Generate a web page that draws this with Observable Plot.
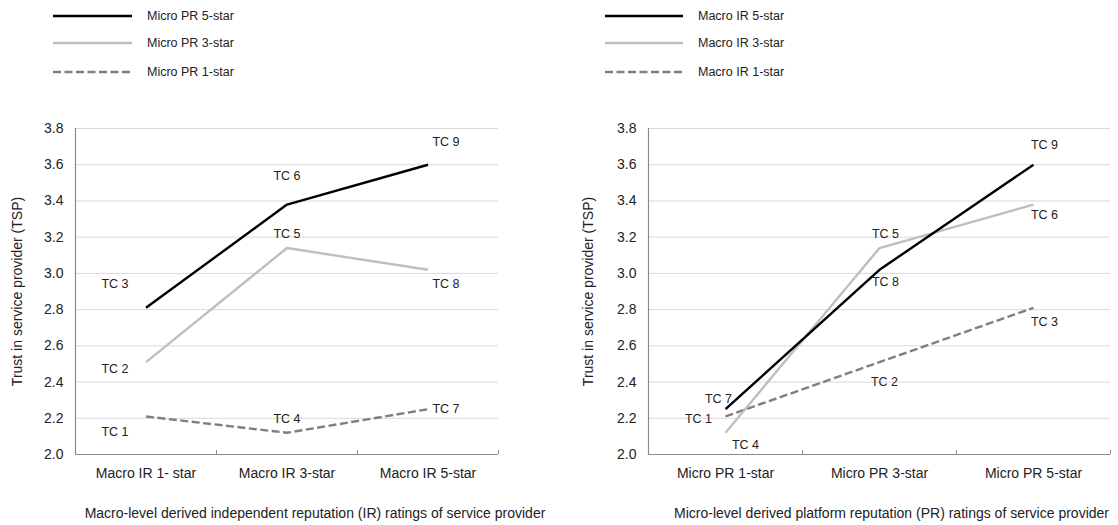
<!DOCTYPE html>
<html>
<head>
<meta charset="utf-8">
<script src="https://cdn.jsdelivr.net/npm/d3@7"></script>
<script src="https://cdn.jsdelivr.net/npm/@observablehq/plot@0.6"></script>
<style>
  html, body { margin: 0; padding: 0; background: #fff; }
  #root { position: relative; width: 1118px; height: 525px; overflow: hidden; font-family: "Liberation Sans", Arial, sans-serif; color: #222; }
  .legend { position: absolute; top: 0; }
  .legend .item { position: absolute; left: 0; height: 16px; white-space: nowrap; font-size: 12.5px; }
  .legend svg { position: absolute; left: 0; top: 0; }
  .legend span { position: absolute; top: 0; line-height: 16px; }
</style>
</head>
<body>
<div id="root"></div>
<script>
// ---------- data ----------
const irCategories = ["Macro IR 1- star", "Macro IR 3-star", "Macro IR 5-star"];
const prCategories = ["Micro PR 1-star", "Micro PR 3-star", "Micro PR 5-star"];
const starLevels = [1, 3, 5];
const leftSeriesNames = ["Micro PR 5-star", "Micro PR 3-star", "Micro PR 1-star"];
const rightSeriesNames = ["Macro IR 5-star", "Macro IR 3-star", "Macro IR 1-star"];
const seriesLevels = [5, 3, 1];
const tcLabels = ["TC 1", "TC 2", "TC 3", "TC 4", "TC 5", "TC 6", "TC 7", "TC 8", "TC 9"];
const cellIR = [1, 1, 1, 3, 3, 3, 5, 5, 5];
const cellPR = [1, 3, 5, 1, 3, 5, 1, 3, 5];
const tspValues = [2.21, 2.51, 2.81, 2.12, 3.14, 3.38, 2.25, 3.02, 3.60];
const yTicks = [2.0, 2.2, 2.4, 2.6, 2.8, 3.0, 3.2, 3.4, 3.6, 3.8];
const yTitle = "Trust in service provider (TSP)";
const leftXTitle = "Macro-level derived independent reputation (IR) ratings of service provider";
const rightXTitle = "Micro-level derived platform reputation (PR) ratings of service provider";

const cells = tcLabels.map((tc, i) => ({tc, ir: cellIR[i], pr: cellPR[i], tsp: tspValues[i]}));

// ---------- styles / layout ----------
const seriesStyle = {
  5: {stroke: "#000000", strokeWidth: 2.4},
  3: {stroke: "#bfbfbf", strokeWidth: 2.4},
  1: {stroke: "#7f7f7f", strokeWidth: 2.4, strokeDasharray: "8,3.5"}
};
const leftLabelOffsets = {
  "TC 1": [-31, 16], "TC 2": [-31, 7], "TC 3": [-31, -24],
  "TC 4": [0, -14], "TC 5": [0, -14], "TC 6": [0, -29],
  "TC 7": [18, 0], "TC 8": [18, 14], "TC 9": [18, -23]
};
const rightLabelOffsets = {
  "TC 1": [-27, 3], "TC 4": [20, 12], "TC 7": [-7, -10],
  "TC 2": [5, 20], "TC 5": [6, -14], "TC 8": [6, 12],
  "TC 3": [11, 14], "TC 6": [11, 10], "TC 9": [11, -20]
};

const root = document.getElementById("root");

function legend(left, lineLen, textX, names) {
  const div = document.createElement("div");
  div.className = "legend";
  div.style.left = left + "px";
  const ys = [8, 35, 64];
  names.forEach((name, i) => {
    const st = seriesStyle[seriesLevels[i]];
    const item = document.createElement("div");
    item.className = "item";
    item.style.top = ys[i] + "px";
    item.innerHTML = `<svg width="${lineLen}" height="16"><line x1="0" x2="${lineLen}" y1="8" y2="8" stroke="${st.stroke}" stroke-width="${st.strokeWidth}" ${st.strokeDasharray ? `stroke-dasharray="${st.strokeDasharray}"` : ""}/></svg><span style="left:${textX}px">${name}</span>`;
    div.appendChild(item);
  });
  root.appendChild(div);
}

function chart({left, xKey, zKey, xLabels, xTitle, marginLeft, marginRight, offsets, yTitleOffset, xTitleDx}) {
  const xOf = d => starLevels.indexOf(d[xKey]) + 1;
  const marks = [
    Plot.gridY(yTicks.slice(1), {stroke: "#d9d9d9", strokeOpacity: 1, strokeWidth: 1}),
    Plot.ruleY([2.0], {stroke: "#8c8c8c", strokeWidth: 1.2}),
    Plot.ruleX([0.5], {stroke: "#8c8c8c", strokeWidth: 1.2}),
    Plot.axisY({ticks: yTicks, tickFormat: d3.format(".1f"), tickSize: 0, tickPadding: 12, fontSize: 14, label: null}),
    Plot.axisX({ticks: [1, 2, 3], tickFormat: i => xLabels[i - 1], tickSize: 0, tickPadding: 14, fontSize: 14, label: null}),
    Plot.axisX({ticks: [1.5, 2.5, 3.5], tickFormat: () => "", tickSize: -4, stroke: "#8c8c8c", label: null}),
    Plot.text([yTitle], {frameAnchor: "left", textAnchor: "middle", text: d => d, rotate: -90, dx: -yTitleOffset, fontSize: 14, fill: "#222"}),
    Plot.text([xTitle], {frameAnchor: "bottom", lineAnchor: "middle", text: d => d, dx: xTitleDx, dy: 59, fontSize: 14, fill: "#222"})
  ];
  for (const lvl of [1, 3, 5]) {
    marks.push(Plot.line(cells.filter(d => d[zKey] === lvl), {
      x: xOf, y: "tsp", sort: {channel: "x"}, ...seriesStyle[lvl], strokeLinecap: "butt"
    }));
  }
  for (const tc of tcLabels) {
    const [dx, dy] = offsets[tc];
    marks.push(Plot.text(cells.filter(d => d.tc === tc), {
      x: xOf, y: "tsp", text: "tc", dx, dy, fontSize: 12.5, fill: "#222"
    }));
  }
  const svg = Plot.plot({
    width: 559, height: 425,
    marginTop: 28, marginBottom: 71, marginLeft, marginRight,
    style: {fontFamily: "Liberation Sans, Arial, sans-serif", color: "#222", background: "transparent", overflow: "visible"},
    x: {type: "linear", domain: [0.5, 3.5]},
    y: {domain: [2.0, 3.8]},
    marks
  });
  svg.style.position = "absolute";
  svg.style.left = left + "px";
  svg.style.top = "100px";
  root.appendChild(svg);
}

legend(53, 79, 94, leftSeriesNames);
legend(605, 78, 93, rightSeriesNames);

chart({left: 0, xKey: "ir", zKey: "pr", xLabels: irCategories, xTitle: leftXTitle,
  marginLeft: 75, marginRight: 61, offsets: leftLabelOffsets, yTitleOffset: 58, xTitleDx: 28});
chart({left: 559, xKey: "pr", zKey: "ir", xLabels: prCategories, xTitle: rightXTitle,
  marginLeft: 89, marginRight: 8, offsets: rightLabelOffsets, yTitleOffset: 60, xTitleDx: 12});
</script>
</body>
</html>
